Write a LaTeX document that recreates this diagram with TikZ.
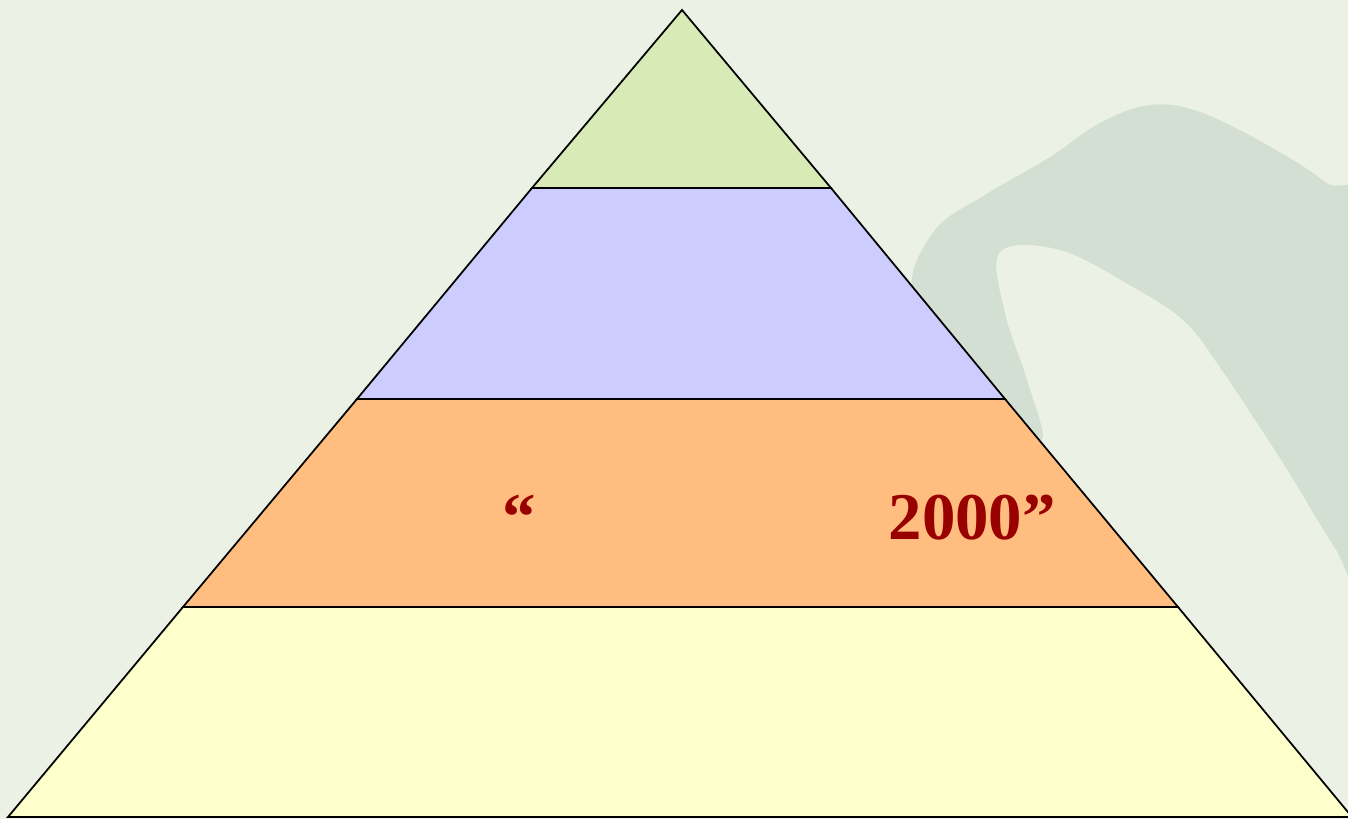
\documentclass[tikz,border=0pt]{standalone}
\usepackage{fontspec}
\setmainfont{Liberation Serif}
\usetikzlibrary{positioning}
\definecolor{bgcol}{HTML}{EBF1E4}
\definecolor{splashcol}{HTML}{D4DFD3}
\definecolor{topcol}{HTML}{D8EAB5}
\definecolor{secondcol}{HTML}{CCCCFF}
\definecolor{thirdcol}{HTML}{FFBE80}
\definecolor{basecol}{HTML}{FFFFCC}
\definecolor{textred}{HTML}{990000}
\tikzset{
  layer/.style={draw=black, line width=0.5pt, line join=miter},
  quote/.style={text=textred, font=\fontsize{19}{22}\selectfont\bfseries, inner sep=0pt, anchor=base west}
}

\begin{document}
\begin{tikzpicture}[x=0.01cm, y=-0.01cm]
% Background
\useasboundingbox (0,0) rectangle (1348,819);
\fill[bgcol] (0,0) rectangle (1348,819);

% Splash in the background
\begin{scope}
\clip (0,0) rectangle (1348,819);
\fill[splashcol] plot[smooth cycle, tension=0.6] coordinates {
  (912,290) (935,230) (985,195) (1050,157) (1100,123) (1150,105)
  (1200,112) (1267,145) (1325,182) (1375,230) (1375,600) (1335,548)
  (1283,463) (1217,363) (1183,320) (1133,287) (1060,250) (1000,252)
  (1005,313) (1027,380) (1042,440) (1000,415) (955,350)};
\end{scope}

% Layers, bottom to top
\filldraw[layer, fill=basecol] (8,817) -- (1352,817) -- (1178,607) -- (183,607) -- cycle;
\filldraw[layer, fill=thirdcol] (183,607) -- (1178,607) -- (1005,399) -- (357,399) -- cycle;
\filldraw[layer, fill=secondcol] (357,399) -- (1005,399) -- (831,188) -- (532,188) -- cycle;
\filldraw[layer, fill=topcol] (532,188) -- (831,188) -- (682,10) -- cycle;

% Label
\node[quote] (openq) at (502,540) {“};
\node[quote] (year) at (888,540) {2000”};
\end{tikzpicture}
\end{document}
